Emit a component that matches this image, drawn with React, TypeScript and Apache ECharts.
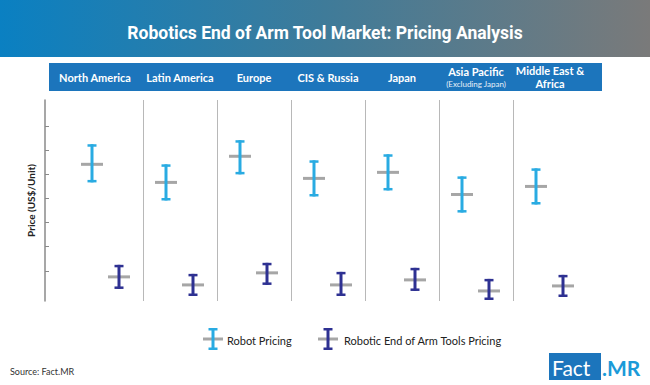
import React, { useEffect, useRef } from "react";
import * as echarts from "echarts";

const categories = [
  "North America",
  "Latin America",
  "Europe",
  "CIS & Russia",
  "Japan",
  "Asia Pacific\n(Excluding Japan)",
  "Middle East &\nAfrica",
];
const robotLow = [59, 50, 63, 52, 55, 44, 48];
const robotMid = [68, 59, 72, 61, 64, 53, 57];
const robotHigh = [78, 68, 80, 70, 73, 62, 66];
const toolLow = [6, 2.5, 8, 2.5, 5, 0.5, 2];
const toolMid = [12, 8, 14, 8, 10.5, 5, 7.5];
const toolHigh = [18, 13.5, 19, 14.5, 16.5, 11, 13];
const yTicks = [15, 27, 39, 51, 63, 75, 87];
const seriesNames = ["Robot Pricing", "Robotic End of Arm Tools Pricing"];

const LIGHT = "#29abe2";
const NAVY = "#2e3192";
const GRAY = "#a6a6a6";
const FONT = "Lato, 'Noto Sans', sans-serif";

function makeRender(color: string, dx: number) {
  return (params: any, api: any) => {
    const cat = api.value(0);
    const lo = api.coord([cat, api.value(1)]);
    const mid = api.coord([cat, api.value(2)]);
    const hi = api.coord([cat, api.value(3)]);
    const x = mid[0] + dx;
    return {
      type: "group",
      children: [
        { type: "rect", shape: { x: x - 11, y: mid[1] - 1.5, width: 22, height: 3 }, style: { fill: GRAY } },
        { type: "rect", shape: { x: x - 1.5, y: hi[1], width: 3, height: lo[1] - hi[1] }, style: { fill: color } },
        { type: "rect", shape: { x: x - 4.5, y: hi[1], width: 9, height: 2.5 }, style: { fill: color } },
        { type: "rect", shape: { x: x - 4.5, y: lo[1] - 2.5, width: 9, height: 2.5 }, style: { fill: color } },
      ],
    };
  };
}

function legendIcon(cx: number, cy: number, color: string) {
  return {
    type: "group",
    children: [
      { type: "rect", shape: { x: cx - 10, y: cy - 1.5, width: 20, height: 3 }, style: { fill: GRAY } },
      { type: "rect", shape: { x: cx - 1.5, y: cy - 11, width: 3, height: 22 }, style: { fill: color } },
      { type: "rect", shape: { x: cx - 4.5, y: cy - 11, width: 9, height: 2.5 }, style: { fill: color } },
      { type: "rect", shape: { x: cx - 4.5, y: cy + 8.5, width: 9, height: 2.5 }, style: { fill: color } },
    ],
  };
}

export default function App() {
  const ref = useRef<HTMLDivElement>(null);
  useEffect(() => {
    if (!ref.current) return;
    const chart = echarts.init(ref.current, null, { renderer: "svg" });
    const robotData = categories.map((_, i) => [i, robotLow[i], robotMid[i], robotHigh[i]]);
    const toolData = categories.map((_, i) => [i, toolLow[i], toolMid[i], toolHigh[i]]);
    chart.setOption({
      animation: false,
      backgroundColor: "#ffffff",
      title: {
        text: "Robotics End of Arm Tool Market: Pricing Analysis",
        left: "center",
        top: 19,
        textStyle: {
          color: "#ffffff",
          fontFamily: "Roboto, sans-serif",
          fontWeight: "bold",
          fontSize: 17.5,
        },
      },
      grid: { left: 69, width: 518, top: 100, height: 201 },
      xAxis: {
        type: "category",
        position: "top",
        data: categories,
        boundaryGap: true,
        axisLine: { show: false },
        axisTick: { show: false },
        splitLine: {
          show: true,
          showMinLine: false,
          showMaxLine: false,
          lineStyle: { color: "#b8b8b8", width: 1 },
        },
        axisLabel: {
          interval: 0,
          margin: 23,
          verticalAlign: "middle",
          color: "#ffffff",
          fontFamily: FONT,
          fontWeight: "bold",
          fontSize: 11,
          lineHeight: 13,
          formatter: (v: string, idx: number) => {
            const parts = v.split("\n");
            if (idx === 0) return "{n|" + v + "}";
            if (parts.length === 2 && parts[1].startsWith("(")) {
              return "{a|" + parts[0] + "}\n{s|" + parts[1] + "}";
            }
            return parts.map((p) => "{a|" + p + "}").join("\n");
          },
          rich: {
            a: { color: "#ffffff", fontFamily: FONT, fontWeight: "bold", fontSize: 11, lineHeight: 13 },
            n: { color: "#ffffff", fontFamily: FONT, fontWeight: "bold", fontSize: 11, lineHeight: 13, padding: [0, 22, 0, 0] },
            s: { color: "#e8f0f8", fontFamily: FONT, fontWeight: "normal", fontSize: 8, lineHeight: 12 },
          },
        },
      },
      yAxis: {
        type: "value",
        min: 0,
        max: 100,
        offset: 24,
        name: "Price (US$/Unit)",
        nameLocation: "middle",
        nameGap: 9,
        nameRotate: 90,
        nameTextStyle: { color: "#222222", fontFamily: FONT, fontWeight: "bold", fontSize: 10 },
        axisLine: { show: true, lineStyle: { color: "#8a8a8a", width: 1.5 } },
        axisTick: { show: true, inside: true, length: 4, customValues: yTicks, lineStyle: { color: "#8a8a8a" } },
        axisLabel: { show: false },
        splitLine: { show: false },
      },
      series: [
        {
          name: seriesNames[0],
          type: "custom",
          renderItem: makeRender(LIGHT, -14),
          encode: { x: 0, y: [1, 2, 3] },
          data: robotData,
          z: 5,
        },
        {
          name: seriesNames[1],
          type: "custom",
          renderItem: makeRender(NAVY, 13),
          encode: { x: 0, y: [1, 2, 3] },
          data: toolData,
          z: 5,
        },
      ],
      graphic: [
        {
          type: "rect",
          z: -1,
          shape: { x: 0, y: 0, width: 650, height: 57 },
          style: {
            fill: new echarts.graphic.LinearGradient(0, 0, 1, 0, [
              { offset: 0, color: "#0a80c2" },
              { offset: 0.5, color: "#3f7b99" },
              { offset: 1, color: "#7a7a7a" },
            ]),
          },
        },
        {
          type: "rect",
          z: -1,
          shape: { x: 49, y: 63, width: 553, height: 28 },
          style: { fill: "#1c75bc" },
        },
        { ...legendIcon(213, 339, LIGHT) },
        {
          type: "text",
          x: 227,
          y: 340,
          style: { text: seriesNames[0], fill: "#222222", font: "11px " + FONT, verticalAlign: "middle" },
        },
        { ...legendIcon(328, 339, NAVY) },
        {
          type: "text",
          x: 344,
          y: 340,
          style: { text: seriesNames[1], fill: "#222222", font: "11px " + FONT, verticalAlign: "middle" },
        },
        {
          type: "text",
          x: 10,
          y: 371,
          style: { text: "Source: Fact.MR", fill: "#333333", font: "9px " + FONT, verticalAlign: "middle" },
        },
        {
          type: "rect",
          shape: { x: 549, y: 353, width: 52, height: 27 },
          style: { fill: "#1c75bc" },
        },
        {
          type: "text",
          x: 552,
          y: 367,
          style: { text: "Fact", fill: "#ffffff", font: "21px " + FONT, verticalAlign: "middle" },
        },
        {
          type: "text",
          x: 602,
          y: 367,
          style: { text: ".MR", fill: "#1b9ad8", font: "bold 21px " + FONT, verticalAlign: "middle" },
        },
      ],
    });
    return () => chart.dispose();
  }, []);
  return (
    <div
      ref={ref}
      style={{ position: "absolute", left: 0, top: 0, width: 650, height: 385 }}
    />
  );
}
